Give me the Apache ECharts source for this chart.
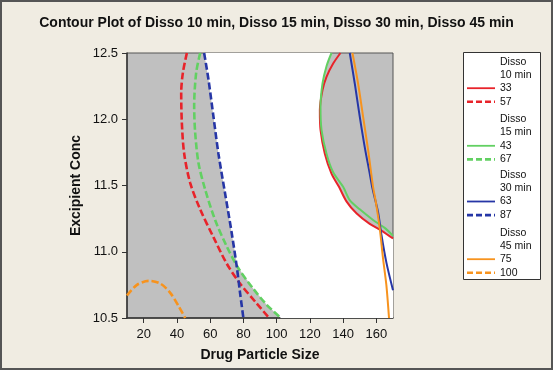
<!DOCTYPE html>
<html><head><meta charset="utf-8">
<script src="https://cdn.jsdelivr.net/npm/echarts@6/dist/echarts.min.js"></script>
<style>html,body{margin:0;padding:0;background:#f0ece2}#c{width:553px;height:370px}</style>
</head><body><div id="c"></div>
<script>
// ---- data: [Drug Particle Size, Excipient Conc] ----
const xTicks = [20, 40, 60, 80, 100, 120, 140, 160];
const yTicks = [10.5, 11.0, 11.5, 12.0, 12.5];

const d10_33 = [[138.4,12.5],[134,12.42],[130,12.32],[127.6,12.22],[126,12.07],[126.4,11.92],[129,11.74],[133,11.59],[137.5,11.49],[142,11.38],[148,11.29],[156,11.21],[163,11.16],[170,11.1]];
const d10_57 = [[46,12.5],[43.6,12.35],[42.6,12.2],[43,11.97],[44.4,11.74],[48,11.52],[54,11.32],[62,11.11],[70,10.91],[78,10.76],[88,10.61],[95.5,10.5]];
const d15_43 = [[133,12.5],[130,12.4],[127.6,12.27],[126.4,12.09],[127,11.92],[130,11.74],[134,11.6],[140,11.49],[144,11.39],[150,11.32],[158,11.24],[165,11.18],[170,11.12]];
const d15_67 = [[54,12.5],[51.6,12.35],[50.4,12.1],[51,11.9],[53,11.67],[57,11.47],[63,11.24],[70,11.04],[77,10.875],[86,10.72],[94,10.6],[102.6,10.5]];
const d30_63 = [[144,12.5],[147,12.27],[150,12.02],[153,11.79],[156,11.59],[157.6,11.48],[161,11.3],[163,11.13],[166,10.92],[170,10.71]];
const d30_87 = [[56.4,12.5],[59,12.3],[62,12.02],[65,11.74],[69,11.44],[73,11.14],[76,10.89],[78,10.69],[80,10.5]];
const d45_75 = [[145.6,12.5],[149,12.27],[152,12.02],[155,11.77],[158,11.49],[159.6,11.38],[162,11.18],[164,10.95],[166,10.75],[167.6,10.5]];
const d45_100 = [[10,10.67],[16,10.75],[23,10.78],[30,10.76],[36,10.69],[41,10.59],[45,10.5]];

// white (feasible) region outline
const feasible = [[56.4,12.5],[59,12.3],[62,12.02],[65,11.74],[69,11.44],[73,11.14],[76.3,10.89],[86,10.72],[94,10.6],[102.6,10.5],[170,10.5],[170,11.1],[163,11.16],[156,11.21],[148,11.29],[142,11.38],[137.5,11.49],[133,11.59],[129,11.74],[126.4,11.92],[126.4,12.09],[127.6,12.27],[130,12.4],[133,12.5]];

const RED='#e8232a', GREEN='#62d062', BLUE='#2636a6', ORANGE='#f7931e';
const FONT='"Liberation Sans", Arial, Helvetica, sans-serif';

function ln(name, data, color, dashed){
  return {type:'line', name, data, showSymbol:false, smooth:0.3, z:5,
    lineStyle:{color, width: dashed?2.6:2, type: dashed?[7,3]:'solid'}, clip:true};
}

const chart = echarts.init(document.getElementById('c'), null, {renderer:'canvas'});

// legend drawn as graphics
const legendItems = [
  {hdr:['Disso','10 min'], vals:[['33',RED,false],['57',RED,true]], y:61.7},
  {hdr:['Disso','15 min'], vals:[['43',GREEN,false],['67',GREEN,true]], y:119.3},
  {hdr:['Disso','30 min'], vals:[['63',BLUE,false],['87',BLUE,true]], y:175},
  {hdr:['Disso','45 min'], vals:[['75',ORANGE,false],['100',ORANGE,true]], y:232.7}
];
const g = [
  {type:'rect', shape:{x:1,y:1,width:551,height:368}, style:{fill:null, stroke:'#555', lineWidth:2}, z:100},
  {type:'rect', shape:{x:463.5,y:52.5,width:77,height:227}, style:{fill:'#fff', stroke:'#333', lineWidth:1}, z:50}
];
legendItems.forEach(it=>{
  const y0 = it.y;
  g.push({type:'text', x:500, y:y0, style:{text:it.hdr[0], font:'10.5px '+FONT, fill:'#111', verticalAlign:'middle'}, z:51});
  g.push({type:'text', x:500, y:y0+13.3, style:{text:it.hdr[1], font:'10.5px '+FONT, fill:'#111', verticalAlign:'middle'}, z:51});
  it.vals.forEach((v,i)=>{
    const yy = y0 + 26.5 + i*13.6;
    g.push({type:'line', shape:{x1:467, y1:yy, x2:495, y2:yy}, style:{stroke:v[1], lineWidth: v[2]?2.6:1.8, lineDash: v[2]?[6,3]:null}, z:51});
    g.push({type:'text', x:500, y:yy, style:{text:v[0], font:'10.5px '+FONT, fill:'#111', verticalAlign:'middle'}, z:51});
  });
});

chart.setOption({
  backgroundColor:'#f0ece2',
  animation:false,
  title:{text:'Contour Plot of Disso 10 min, Disso 15 min, Disso 30 min, Disso 45 min', left:'center', top:11,
    textStyle:{fontFamily:FONT, fontSize:14, fontWeight:'bold', color:'#111'}},
  grid:{left:127, right:160, top:53, bottom:52, show:true, backgroundColor:'#c0c0c0', borderColor:'#555', borderWidth:1},
  xAxis:{type:'value', min:10, max:170, name:'Drug Particle Size', nameLocation:'middle', nameGap:30,
    nameTextStyle:{fontFamily:FONT, fontSize:14, fontWeight:'bold', color:'#111'},
    axisLine:{show:true, lineStyle:{color:'#333', width:1.5}},
    axisTick:{show:true, length:5, lineStyle:{color:'#333'}, customValues:xTicks},
    axisLabel:{customValues:xTicks, margin:10, fontFamily:FONT, fontSize:13, color:'#111'},
    splitLine:{show:false}},
  yAxis:{type:'value', min:10.5, max:12.5, interval:0.5, name:'Excipient Conc', nameLocation:'middle', nameGap:44,
    nameTextStyle:{fontFamily:FONT, fontSize:14, fontWeight:'bold', color:'#111'},
    axisLine:{show:true, lineStyle:{color:'#333', width:1.5}},
    axisTick:{show:true, length:5, lineStyle:{color:'#333'}},
    axisLabel:{margin:9, fontFamily:FONT, fontSize:13, color:'#111', formatter:v=>v.toFixed(1)},
    splitLine:{show:false}},
  graphic:g,
  series:[
    {type:'custom', z:1, data:[[100,11.5]], clip:true, silent:true,
      renderItem:(params, api)=>({type:'polygon', shape:{points:feasible.map(p=>api.coord(p))}, style:{fill:'#ffffff', stroke:null}})},
    ln('33', d10_33, RED, false),
    ln('57', d10_57, RED, true),
    ln('43', d15_43, GREEN, false),
    ln('67', d15_67, GREEN, true),
    ln('63', d30_63, BLUE, false),
    ln('87', d30_87, BLUE, true),
    ln('75', d45_75, ORANGE, false),
    ln('100', d45_100, ORANGE, true)
  ]
});
</script></body></html>
